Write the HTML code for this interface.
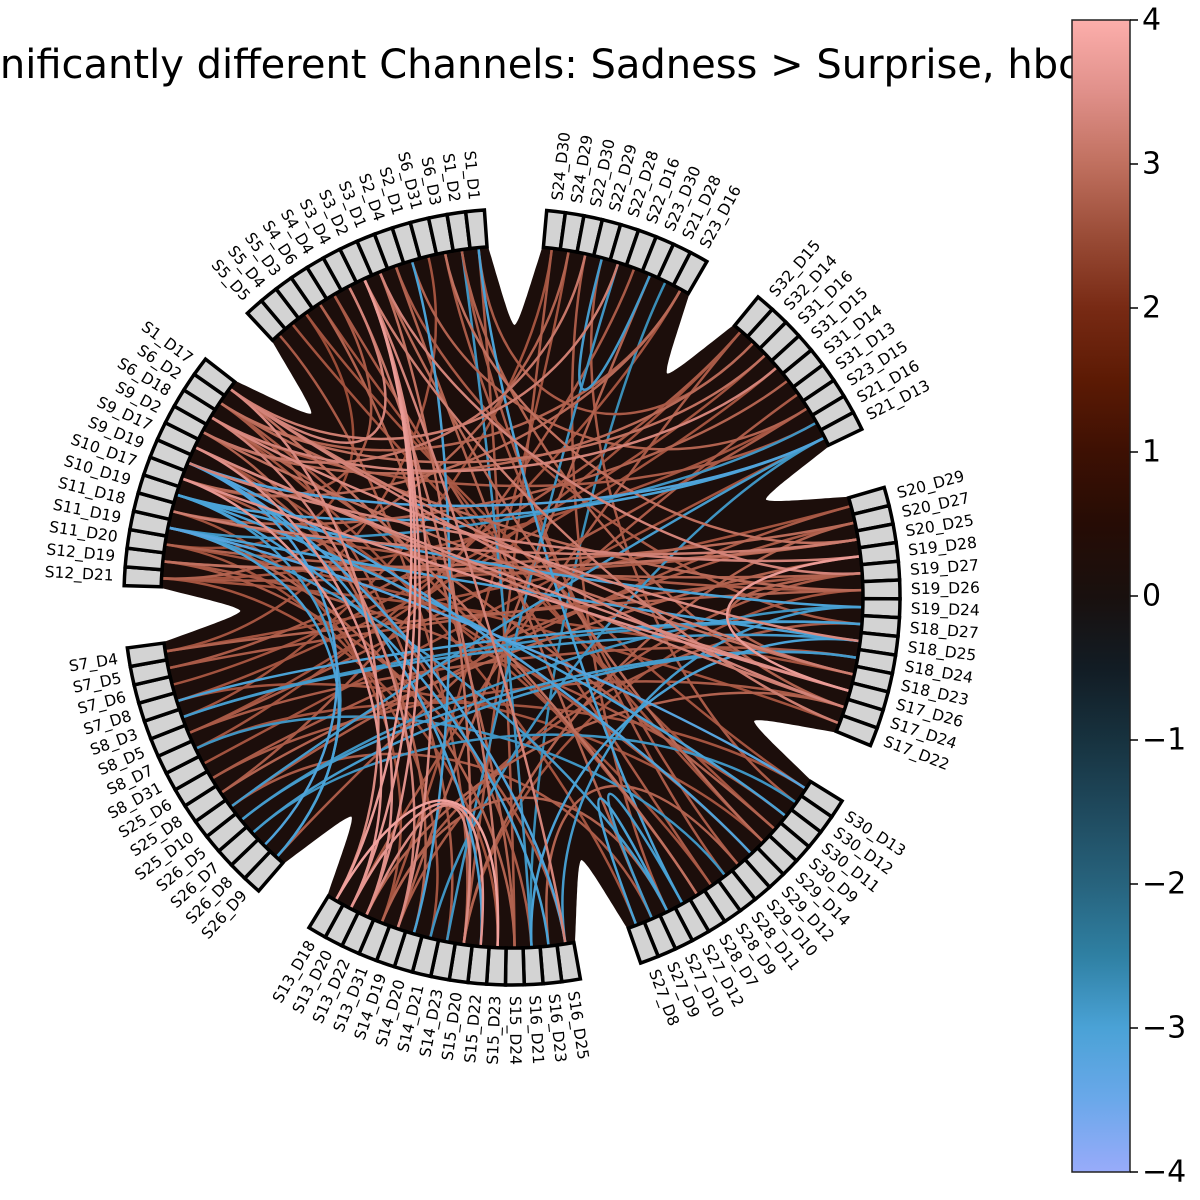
<!DOCTYPE html>
<html><head><meta charset="utf-8">
<style>
html,body{margin:0;padding:0;background:#fff;}
svg{display:block;font-family:"DejaVu Sans","Liberation Sans",sans-serif;}
</style></head>
<body>
<svg id="chart" width="1200" height="1200" viewBox="0 0 1200 1200" xmlns="http://www.w3.org/2000/svg">
  <text x="-62" y="78" font-size="40" fill="#000">Significantly different Channels: Sadness &gt; Surprise, hbo</text>
  <g id="circle"></g>
  <g id="cbar"></g>
</svg>
<script>
const groupNames = [
 ["S5_D5","S5_D4","S5_D3","S4_D6","S4_D4","S3_D4","S3_D2","S3_D1","S2_D4","S2_D1","S6_D31","S6_D3","S1_D2","S1_D1"],
 ["S24_D30","S24_D29","S22_D30","S22_D29","S22_D28","S22_D16","S23_D30","S21_D28","S23_D16"],
 ["S32_D15","S32_D14","S31_D16","S31_D15","S31_D14","S31_D13","S23_D15","S21_D16","S21_D13"],
 ["S20_D29","S20_D27","S20_D25","S19_D28","S19_D27","S19_D26","S19_D24","S18_D27","S18_D25","S18_D24","S18_D23","S17_D26","S17_D24","S17_D22"],
 ["S30_D13","S30_D12","S30_D11","S30_D9","S29_D14","S29_D12","S29_D10","S28_D11","S28_D9","S28_D7","S27_D12","S27_D10","S27_D9","S27_D8"],
 ["S16_D25","S16_D23","S16_D21","S15_D24","S15_D23","S15_D22","S15_D20","S14_D23","S14_D21","S14_D20","S14_D19","S13_D31","S13_D22","S13_D20","S13_D18"],
 ["S26_D9","S26_D8","S26_D7","S26_D5","S25_D10","S25_D8","S25_D6","S8_D31","S8_D7","S8_D5","S8_D3","S7_D8","S7_D6","S7_D5","S7_D4"],
 ["S12_D21","S12_D19","S11_D20","S11_D19","S11_D18","S10_D19","S10_D17","S9_D19","S9_D17","S9_D2","S6_D18","S6_D2","S1_D17"]
];
const sources = [6,6,6,6,6,6,7,7,5,5,9,13,12,13,12,11,10,8,3,4,1,2,14,14,15,16,17,18,19,20,21,22,22,16,17,15,31,31,31,31,30,29,28,27,26,25,24,23,23,34,34,35,35,36,36,37,38,39,40,41,41,42,43,44,45,33,32,39,42,37,44,46,47,48,49,50,51,52,53,54,55,56,57,57,58,59,55,53,50,60,61,62,63,64,65,66,67,68,69,70,71,72,73,74,60,62,66,70,75,75,76,77,78,79,80,81,82,83,84,85,86,87,88,89,90,91,92,93,94,95,96,97,97,98,99,100,101,102,100,93,91,90,4,2,0,8,11,13,9,7];
const targets = [73,72,70,74,60,45,66,50,102,64,69,56,62,63,44,52,89,39,63,96,49,92,66,85,90,57,20,67,80,70,62,83,96,99,47,71,95,97,79,68,100,90,75,94,86,101,99,73,84,94,91,43,97,88,42,66,95,85,93,78,84,90,98,102,92,81,89,71,102,101,72,93,77,91,100,86,96,61,83,98,101,58,59,71,79,100,102,12,3,97,95,98,93,74,73,72,101,92,99,100,94,98,96,102,38,40,33,36,93,95,97,41,38,32,35,44,31,46,29,40,39,25,23,37,34,33,36,30,37,48,43,51,65,44,42,26,22,18,40,57,60,64,54,46,66,58,34,24,29,36];
const values = [3.6,3.5,3.4,3.7,3.3,3.2,3.0,2.9,3.3,3.1,-3.0,-3.0,-2.8,2.7,2.8,2.7,2.6,2.7,2.8,2.7,2.6,2.5,2.7,2.6,2.8,2.7,-2.9,-2.8,2.7,2.8,-2.7,2.6,2.9,3.1,2.7,2.6,-3.0,-3.1,-2.9,-2.8,2.7,2.6,2.7,2.8,2.6,3.0,2.9,2.7,2.6,3.2,3.0,3.7,3.3,2.7,2.8,2.6,-3.0,-2.8,-3.0,-2.9,2.7,2.6,3.4,3.3,2.6,2.7,2.6,2.7,3.2,2.9,2.8,-3.2,-2.8,2.7,2.8,2.6,2.7,2.8,-2.8,2.6,2.7,-2.9,-3.0,2.8,2.7,2.6,3.0,2.7,2.6,-3.1,-3.0,2.7,2.8,3.8,3.6,3.4,2.7,2.6,2.8,3.3,2.6,3.5,3.6,3.4,-2.9,-3.0,2.8,2.7,-3.0,-2.9,-3.1,-2.9,-2.8,2.7,2.8,2.7,2.6,2.6,2.7,-2.9,-3.0,2.6,2.7,2.8,2.7,2.9,2.8,-2.8,2.7,-3.0,3.5,-3.1,-3.0,3.2,3.0,3.3,2.8,3.2,3.4,-2.9,2.7,2.6,2.7,2.6,2.7,2.8,3.0,2.7,2.8,3.3];
const tickValues = [4,3,2,1,0,-1,-2,-3,-4];
const tickLabels = ["4","3","2","1","0","\u22121","\u22122","\u22123","\u22124"];
const vmin = -4, vmax = 4;
const cmapStops = [[-4,"#98abfa"],[-3.5,"#6aa8ea"],[-3,"#4aa2d6"],[-2.5,"#2f80a3"],[-2,"#27637d"],[-1.5,"#1f4a5e"],[-1,"#17323f"],[-0.5,"#121c24"],[0,"#19100e"],[0.5,"#260c05"],[1,"#3d1003"],[1.5,"#5c1a04"],[2,"#782a14"],[2.5,"#9a4c37"],[3,"#c0705f"],[3.5,"#e0908a"],[4,"#fcaeab"]];

const NS = "http://www.w3.org/2000/svg";
const CX = 512, CY = 597, R_IN = 351, R_OUT = 388, R_CH = 352, R_LAB = 399;
const STEP = 2.78, GAP = 9.21, START = -133;
function hex(c){return [parseInt(c.substr(1,2),16),parseInt(c.substr(3,2),16),parseInt(c.substr(5,2),16)];}
function cmap(v){
  v = Math.max(vmin, Math.min(vmax, v));
  for (let i=0;i<cmapStops.length-1;i++){
    const a=cmapStops[i], b=cmapStops[i+1];
    if (v>=a[0] && v<=b[0]){
      const t=(v-a[0])/(b[0]-a[0]); const ca=hex(a[1]), cb=hex(b[1]);
      return "rgb("+ca.map((x,k)=>Math.round(x+(cb[k]-x)*t)).join(",")+")";
    }
  }
  return cmapStops[cmapStops.length-1][1];
}
function pt(deg, r){const a=deg*Math.PI/180; return [CX+r*Math.cos(a), CY+r*Math.sin(a)];}
function mk(tag, attrs, parent){const e=document.createElementNS(NS,tag); for(const k in attrs) e.setAttribute(k, attrs[k]); parent.appendChild(e); return e;}

const g = document.getElementById("circle");
const nodeAngles = [], nodeLabels = [], gapRanges = [];
let ang = START;
groupNames.forEach((grp) => {
  grp.forEach(n => { nodeAngles.push(ang + STEP/2); nodeLabels.push(n); ang += STEP; });
  gapRanges.push([ang, ang + GAP]);
  ang += GAP;
});

const bg = mk("circle", {cx:CX, cy:CY, r:R_CH+2, fill:"#1c0e0b"}, g);


gapRanges.forEach(([a,b]) => {
  let d = "";
  const p0 = pt(a, 400); d += "M"+p0[0].toFixed(1)+","+p0[1].toFixed(1);
  for (let i=0;i<=60;i++){
    const t=i/60, u=Math.abs(2*t-1);
    const r = 272 + 84*Math.pow(u, 1.5);
    const p = pt(a + t*(b-a), r); d += " L"+p[0].toFixed(1)+","+p[1].toFixed(1);
  }
  const p1 = pt(b, 400); d += " L"+p1[0].toFixed(1)+","+p1[1].toFixed(1)+" Z";
  const n = mk("path", {d:d, fill:"#fff"}, g);
  
  
});

const order = values.map((v,i)=>i).sort((i,j)=>Math.abs(values[i])-Math.abs(values[j]));
order.forEach(i => {
  const a = nodeAngles[sources[i]], b = nodeAngles[targets[i]];
  const p0 = pt(a, R_CH), c0 = pt(a, R_CH*0.5), c1 = pt(b, R_CH*0.5), p1 = pt(b, R_CH);
  const d = "M"+p0.map(x=>x.toFixed(1)).join(",")+" C"+c0.map(x=>x.toFixed(1)).join(",")+" "+c1.map(x=>x.toFixed(1)).join(",")+" "+p1.map(x=>x.toFixed(1)).join(",");
  const c = mk("path", {d:d, fill:"none", stroke:cmap(values[i]), "stroke-width":2.5}, g);
  
  
});

nodeAngles.forEach((a, i) => {
  const a0 = a - STEP/2, a1 = a + STEP/2;
  const q0=pt(a0,R_IN), q1=pt(a0,R_OUT), q2=pt(a1,R_OUT), q3=pt(a1,R_IN);
  const d = "M"+q0.join(",")+" L"+q1.join(",")+" A"+R_OUT+","+R_OUT+" 0 0 1 "+q2.join(",")+" L"+q3.join(",")+" A"+R_IN+","+R_IN+" 0 0 0 "+q0.join(",")+" Z";
  const box = mk("path", {d:d, fill:"#d3d3d3", stroke:"#000", "stroke-width":3.5, "stroke-linejoin":"miter"}, g);
  
  
  const lp = pt(a, R_LAB);
  let norm = ((a % 360) + 360) % 360;
  const flip = norm > 90 && norm < 270;
  const t = mk("text", {x:lp[0].toFixed(1), y:lp[1].toFixed(1), "font-size":15.5, fill:"#000",
    "text-anchor": flip ? "end" : "start", "dominant-baseline":"central",
    transform:"rotate("+(flip ? a+180 : a).toFixed(2)+" "+lp[0].toFixed(1)+" "+lp[1].toFixed(1)+")"}, g);
  t.textContent = nodeLabels[i];
  
  
});

const cb = document.getElementById("cbar");
const CBX = 1072, CBW = 58, CBT = 20, CBB = 1172;
const cbBg = mk("rect", {x:CBX, y:0, width:CBW, height:1200, fill:"#fff"}, cb);


const defs = mk("defs", {}, cb);
const lg = mk("linearGradient", {id:"cg", x1:0, y1:1, x2:0, y2:0}, defs);
cmapStops.forEach(s => mk("stop", {offset:((s[0]-vmin)/(vmax-vmin)).toFixed(4), "stop-color":s[1]}, lg));
const bar = mk("rect", {x:CBX, y:CBT, width:CBW, height:CBB-CBT, fill:"url(#cg)", stroke:"#222", "stroke-width":1.5}, cb);


function cy(v){return CBB - (v-vmin)/(vmax-vmin)*(CBB-CBT);}
tickValues.forEach((v, k) => {
  const y = cy(v);
  const tk = mk("line", {x1:CBX+CBW, x2:CBX+CBW+8, y1:y, y2:y, stroke:"#000", "stroke-width":1.5}, cb);
  
  
  const tl = mk("text", {x:CBX+CBW+12, y:y, "font-size":30, fill:"#000", "dominant-baseline":"central"}, cb);
  tl.textContent = tickLabels[k];
  
  
});
</script>
</body></html>
